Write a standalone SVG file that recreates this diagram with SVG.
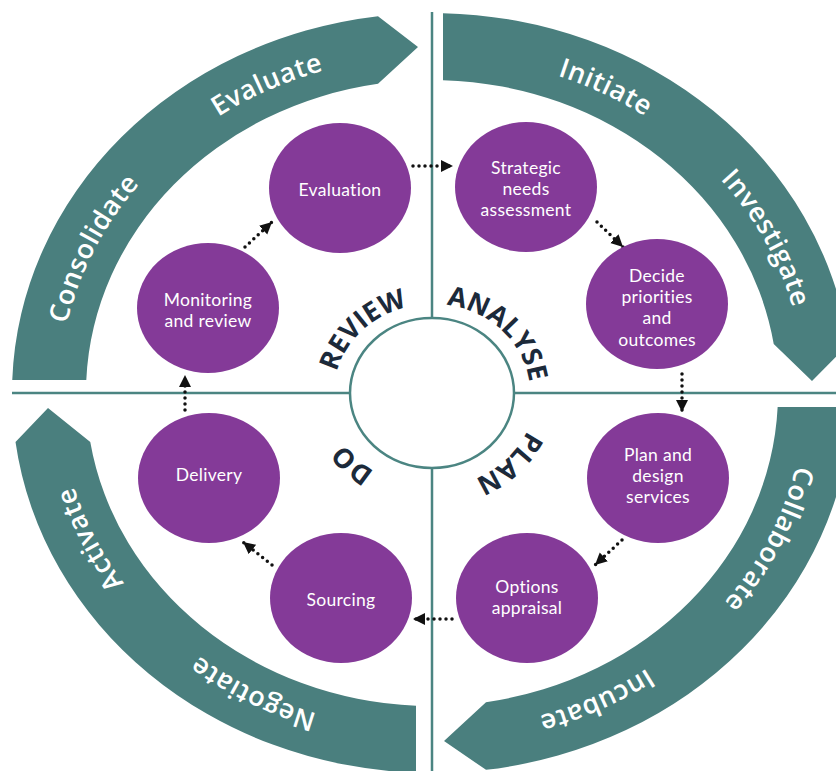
<svg xmlns="http://www.w3.org/2000/svg" width="836" height="771" viewBox="0 0 836 771">
  <style>
    .band { fill: #4a7f7e; }
    .axis { stroke: #4b8582; stroke-width: 2.5; fill: none; }
    .node { fill: #843a98; }
    .ntext { fill: #ffffff; font-family: Lato, "Liberation Sans", sans-serif; font-size: 17.5px; letter-spacing: 0.3px; text-anchor: middle; }
    .btext { fill: #ffffff; font-family: "Open Sans", "Noto Sans", "Liberation Sans", sans-serif; font-size: 27px; font-weight: 600; letter-spacing: 0.5px; }
    .ctext { fill: #1c2a3a; font-family: "Open Sans", "Noto Sans", "Liberation Sans", sans-serif; font-size: 27px; font-weight: 700; }
    .conn { stroke: #111111; stroke-width: 3.5; stroke-linecap: round; stroke-dasharray: 0 6; fill: none; marker-end: url(#arr); }
  </style>
  <defs>
    <marker id="arr" markerUnits="userSpaceOnUse" markerWidth="14" markerHeight="14" refX="12" refY="6" orient="auto">
      <path d="M0,0 L12,6 L0,12 Z" fill="#111111"/>
    </marker>
    <path id="bandPath" d="M432,730 A373,337 0 0 1 432,56 A373,337 0 0 1 432,730"/>
    <path id="innerUp" d="M432,482 A98,89 0 0 1 432,304 A98,89 0 0 1 432,482"/>
    <path id="innerLow" d="M432,487 A104,94 0 0 1 432,299 A104,94 0 0 1 432,487"/>
  </defs>

  <rect width="836" height="771" fill="#ffffff"/>

  <g id="bands">
    <path class="band" d="M12.25,380 A420,380 0 0 1 378,16.15 L418,47 L378,83.84 A346,313 0 0 0 86.3,380 Z"/>
    <path class="band" d="M443,13.13 A420,380 0 0 1 848.49,344 L812,381 L773.73,344 A346,313 0 0 0 443,80.16 Z"/>
    <path class="band" d="M851.71,407 A420,380 0 0 1 486,769.85 L444,741 L486,702.16 A346,313 0 0 0 777.65,407 Z"/>
    <path class="band" d="M416,772.72 A420,380 0 0 1 15.51,442 L48,408 L90.27,442 A346,313 0 0 0 416,705.67 Z"/>
  </g>

  <g id="band-labels">
    <text class="btext"><textPath href="#bandPath" startOffset="8.2%" text-anchor="middle">Negotiate</textPath></text>
    <text class="btext"><textPath href="#bandPath" startOffset="18.3%" text-anchor="middle">Activate</textPath></text>
    <text class="btext"><textPath href="#bandPath" startOffset="31.7%" text-anchor="middle">Consolidate</textPath></text>
    <text class="btext"><textPath href="#bandPath" startOffset="42.5%" text-anchor="middle">Evaluate</textPath></text>
    <text class="btext"><textPath href="#bandPath" startOffset="57.9%" text-anchor="middle">Initiate</textPath></text>
    <text class="btext"><textPath href="#bandPath" startOffset="67.8%" text-anchor="middle">Investigate</textPath></text>
    <text class="btext"><textPath href="#bandPath" startOffset="81.8%" text-anchor="middle">Collaborate</textPath></text>
    <text class="btext"><textPath href="#bandPath" startOffset="92.5%" text-anchor="middle">Incubate</textPath></text>
  </g>

  <g id="axes">
    <line class="axis" x1="432" y1="12" x2="432" y2="318"/>
    <line class="axis" x1="432" y1="468" x2="432" y2="771"/>
    <line class="axis" x1="12" y1="393" x2="350" y2="393"/>
    <line class="axis" x1="514" y1="393" x2="836" y2="393"/>
    <ellipse class="axis" cx="432" cy="393" rx="82" ry="75"/>
  </g>

  <g id="phase-labels">
    <text class="ctext"><textPath href="#innerUp" startOffset="37.2%" text-anchor="middle">REVIEW</textPath></text>
    <text class="ctext"><textPath href="#innerUp" startOffset="62.8%" text-anchor="middle">ANALYSE</textPath></text>
    <text class="ctext"><textPath href="#innerLow" startOffset="87.1%" text-anchor="middle">PLAN</textPath></text>
    <text class="ctext"><textPath href="#innerLow" startOffset="13.0%" text-anchor="middle">DO</textPath></text>
  </g>

  <g id="connectors">
    <path class="conn" d="M413,166 L453,166"/>
    <path class="conn" d="M597,222 L623,247"/>
    <path class="conn" d="M682,374 L682,412"/>
    <path class="conn" d="M622,540 L595,565"/>
    <path class="conn" d="M452,619 L413,619"/>
    <path class="conn" d="M272,565 L243,542"/>
    <path class="conn" d="M185,410 L185,375"/>
    <path class="conn" d="M245,247 L272,222"/>
  </g>

  <g id="node-evaluation">
    <ellipse class="node" cx="340" cy="188" rx="71" ry="65"/>
    <text class="ntext" x="340" y="196">Evaluation</text>
  </g>
  <g id="node-strategic">
    <ellipse class="node" cx="526" cy="187" rx="71" ry="65"/>
    <text class="ntext" x="526" y="174">Strategic<tspan x="526" dy="21.2">needs</tspan><tspan x="526" dy="21.2">assessment</tspan></text>
  </g>
  <g id="node-decide">
    <ellipse class="node" cx="657" cy="304" rx="71" ry="65"/>
    <text class="ntext" x="657" y="282">Decide<tspan x="657" dy="21.2">priorities</tspan><tspan x="657" dy="21.2">and</tspan><tspan x="657" dy="21.2">outcomes</tspan></text>
  </g>
  <g id="node-plan">
    <ellipse class="node" cx="658" cy="478" rx="71" ry="65"/>
    <text class="ntext" x="658" y="461">Plan and<tspan x="658" dy="21.2">design</tspan><tspan x="658" dy="21.2">services</tspan></text>
  </g>
  <g id="node-options">
    <ellipse class="node" cx="527" cy="598" rx="71" ry="65"/>
    <text class="ntext" x="527" y="592.5">Options<tspan x="527" dy="21.2">appraisal</tspan></text>
  </g>
  <g id="node-sourcing">
    <ellipse class="node" cx="341" cy="598" rx="71" ry="65"/>
    <text class="ntext" x="341" y="606">Sourcing</text>
  </g>
  <g id="node-delivery">
    <ellipse class="node" cx="209" cy="478" rx="71" ry="65"/>
    <text class="ntext" x="209" y="481">Delivery</text>
  </g>
  <g id="node-monitoring">
    <ellipse class="node" cx="208" cy="308" rx="71" ry="65"/>
    <text class="ntext" x="208" y="305.5">Monitoring<tspan x="208" dy="21.2">and review</tspan></text>
  </g>
</svg>
